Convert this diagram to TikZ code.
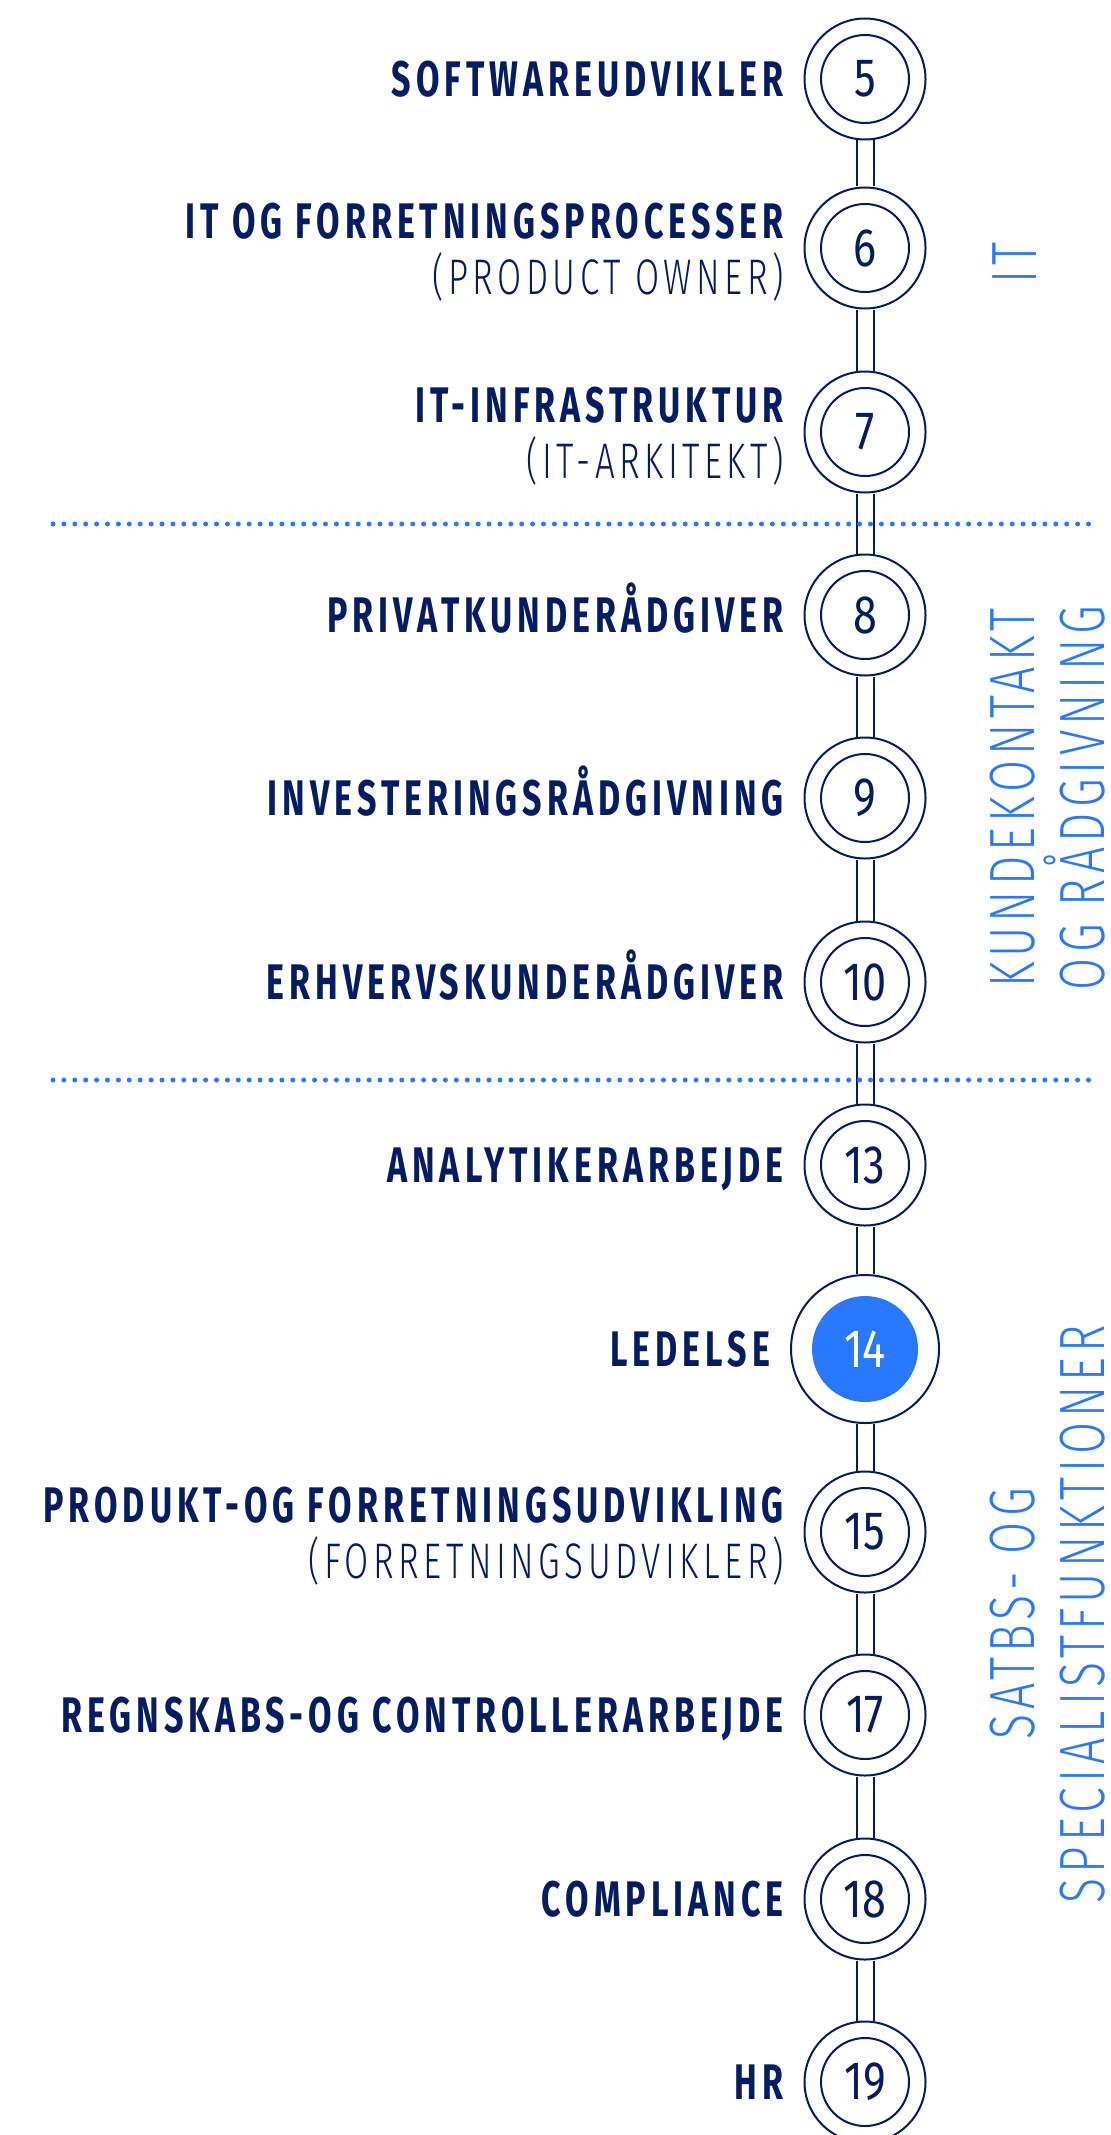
\documentclass[tikz,border=0pt]{standalone}
\usepackage{fontspec}
\usetikzlibrary{positioning}
\definecolor{navy}{RGB}{4,28,99}
\definecolor{signal}{RGB}{41,121,255}
\newfontfamily\titlefont{Fira Sans}[FakeStretch=0.68,LetterSpace=10]
\newfontfamily\subfont{Fira Sans Light}[FakeStretch=0.7,LetterSpace=9]
\newfontfamily\numfont{Fira Sans}[FakeStretch=0.8]
\newfontfamily\sidefont{Fira Sans Light}[FakeStretch=0.725,LetterSpace=8]

\begin{document}
\begin{tikzpicture}[x=0.5pt,y=-0.5pt,
  station/.style={shape=circle,draw=navy,line width=1pt,fill=white,minimum size=60.5pt,inner sep=0pt,
    font=\numfont\fontsize{27}{27}\selectfont,text=navy,
    path picture={\draw[navy,line width=1pt] (path picture bounding box.center) circle[radius=22pt];}},
  here/.style={shape=circle,draw=navy,line width=1pt,fill=white,minimum size=74pt,inner sep=0pt,
    font=\numfont\fontsize{27}{27}\selectfont,text=white,
    path picture={\fill[signal] (path picture bounding box.center) circle[radius=26.5pt];}},
  title/.style={font=\titlefont\bfseries\fontsize{25}{30}\selectfont,text=navy,inner sep=0pt,anchor=base east},
  sub/.style={font=\subfont\fontsize{25}{30}\selectfont,text=navy,inner sep=0pt,anchor=base east},
  side/.style={font=\sidefont\fontsize{32}{35}\selectfont,text=signal,rotate=90,align=center,inner sep=0pt},
  rail/.style={draw=navy,line width=1pt},
  sep/.style={draw=signal,line width=2.5pt,line cap=round,dash pattern=on 0pt off 5.45pt}]
\useasboundingbox (0,0) rectangle (1111,2135);
\node[station] (5) at (865,79) {5};
\node[station] (6) at (865,248) {6};
\node[station] (7) at (865,432) {7};
\node[station] (8) at (865,615) {8};
\node[station] (9) at (865,798) {9};
\node[station] (10) at (865,982) {10};
\node[station] (13) at (865,1165) {13};
\node[here] (14) at (865,1349) {14};
\node[station] (15) at (865,1532) {15};
\node[station] (17) at (865,1715) {17};
\node[station] (18) at (865,1899) {18};
\node[station] (19) at (865,2082) {19};
%\node at (865,0) {\ldots};
\node[title] (t5) at ([shift={(-9.75pt,-8.75pt)}]5.west) {SOFTWAREUDVIKLER};
\node[title] (t6) at ([shift={(-9.75pt,4.75pt)}]6.west) {IT OG FORRETNINGSPROCESSER};
\node[sub] (s6) at ([shift={(-9.75pt,-23.25pt)}]6.west) {(PRODUCT OWNER)};
\node[title] (t7) at ([shift={(-9.75pt,4.75pt)}]7.west) {IT-INFRASTRUKTUR};
\node[sub] (s7) at ([shift={(-9.75pt,-23.25pt)}]7.west) {(IT-ARKITEKT)};
\node[title] (t8) at ([shift={(-9.75pt,-8.75pt)}]8.west) {PRIVATKUNDERÅDGIVER};
\node[title] (t9) at ([shift={(-9.75pt,-8.75pt)}]9.west) {INVESTERINGSRÅDGIVNING};
\node[title] (t10) at ([shift={(-9.75pt,-8.75pt)}]10.west) {ERHVERVSKUNDERÅDGIVER};
\node[title] (t13) at ([shift={(-9.75pt,-8.75pt)}]13.west) {ANALYTIKERARBEJDE};
\node[title] (t14) at ([shift={(-9.75pt,-8.75pt)}]14.west) {LEDELSE};
\node[title] (t15) at ([shift={(-9.75pt,4.75pt)}]15.west) {PRODUKT-OG FORRETNINGSUDVIKLING};
\node[sub] (s15) at ([shift={(-9.75pt,-23.25pt)}]15.west) {(FORRETNINGSUDVIKLER)};
\node[title] (t17) at ([shift={(-9.75pt,-8.75pt)}]17.west) {REGNSKABS-OG CONTROLLERARBEJDE};
\node[title] (t18) at ([shift={(-9.75pt,-8.75pt)}]18.west) {COMPLIANCE};
\node[title] (t19) at ([shift={(-9.75pt,-8.75pt)}]19.west) {HR};
\node[side] (it) at (1015,263) {IT};
\node[side] (kunde) at (1048,798) {KUNDEKONTAKT\\OG RÅDGIVNING};
\node[side] (stab) at (1048,1614) {SATBS- OG\\SPECIALISTFUNKTIONER};
\draw[rail] ([xshift=-4.25pt]5.south) -- ([xshift=-4.25pt]6.north) ([xshift=4.25pt]5.south) -- ([xshift=4.25pt]6.north);
\draw[rail] ([xshift=-4.25pt]6.south) -- ([xshift=-4.25pt]7.north) ([xshift=4.25pt]6.south) -- ([xshift=4.25pt]7.north);
\draw[rail] ([xshift=-4.25pt]7.south) -- ([xshift=-4.25pt]8.north) ([xshift=4.25pt]7.south) -- ([xshift=4.25pt]8.north);
\draw[rail] ([xshift=-4.25pt]8.south) -- ([xshift=-4.25pt]9.north) ([xshift=4.25pt]8.south) -- ([xshift=4.25pt]9.north);
\draw[rail] ([xshift=-4.25pt]9.south) -- ([xshift=-4.25pt]10.north) ([xshift=4.25pt]9.south) -- ([xshift=4.25pt]10.north);
\draw[rail] ([xshift=-4.25pt]10.south) -- ([xshift=-4.25pt]13.north) ([xshift=4.25pt]10.south) -- ([xshift=4.25pt]13.north);
\draw[rail] ([xshift=-4.25pt]13.south) -- ([xshift=-4.25pt]14.north) ([xshift=4.25pt]13.south) -- ([xshift=4.25pt]14.north);
\draw[rail] ([xshift=-4.25pt]14.south) -- ([xshift=-4.25pt]15.north) ([xshift=4.25pt]14.south) -- ([xshift=4.25pt]15.north);
\draw[rail] ([xshift=-4.25pt]15.south) -- ([xshift=-4.25pt]17.north) ([xshift=4.25pt]15.south) -- ([xshift=4.25pt]17.north);
\draw[rail] ([xshift=-4.25pt]17.south) -- ([xshift=-4.25pt]18.north) ([xshift=4.25pt]17.south) -- ([xshift=4.25pt]18.north);
\draw[rail] ([xshift=-4.25pt]18.south) -- ([xshift=-4.25pt]19.north) ([xshift=4.25pt]18.south) -- ([xshift=4.25pt]19.north);
\draw[sep] (53,524) -- (1092,524);
\draw[sep] (53,1080) -- (1092,1080);
\end{tikzpicture}
\end{document}
